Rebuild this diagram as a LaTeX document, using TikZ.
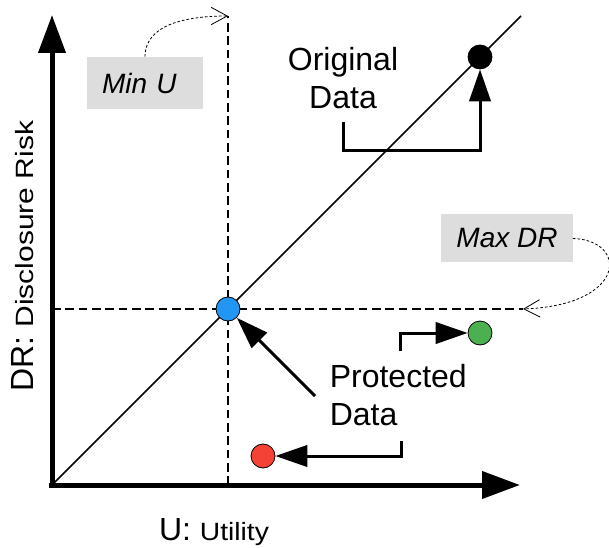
\documentclass[tikz,border=0pt]{standalone}
\usepackage{fontspec}
\setmainfont{Liberation Sans}
\usepackage{xcolor}
\definecolor{boxgray}{RGB}{221,221,221}
\definecolor{protblue}{RGB}{33,150,243}
\definecolor{protgreen}{RGB}{76,175,80}
\definecolor{protred}{RGB}{244,67,54}
\usetikzlibrary{positioning,arrows.meta}

\begin{document}
\begin{tikzpicture}[x=0.75pt,y=-0.75pt,
  axis/.style={line width=3.75pt,-{Triangle[length=28.5pt,width=20pt]}},
  pointer/.style={line width=2.25pt,-{Triangle[length=24pt,width=16pt]}},
  guide/.style={line width=1.1pt,dash pattern=on 6.5pt off 3.5pt},
  hint/.style={line width=0.6pt,dash pattern=on 2pt off 1.5pt,-{Straight Barb[length=12pt,width=13pt]}},
  graybox/.style={fill=boxgray,inner xsep=11.25pt,minimum height=36pt,font=\fontsize{21}{25}\selectfont\itshape},
  datapoint/.style={circle,draw=black,line width=0.6pt,minimum size=18pt,inner sep=0pt},
  bigtext/.style={inner sep=0pt,font=\fontsize{24}{28.5}\selectfont}
]
\useasboundingbox (0,0) rectangle (609,548);

% axes
\coordinate (origin) at (52,485);
\coordinate (ytip) at (52,15);
\coordinate (xtip) at (520,485);
\coordinate (umin) at (228,16);
\coordinate (drmax) at (523,309);
\coordinate (diagend) at (521,16);

% guide lines
\draw[guide] (228,485) -- (umin);
\draw[guide] (52,309) -- (drmax);
\draw[line width=1.3pt] (origin) -- (diagend);

\draw[axis] ([yshift=-2pt]origin) -- (ytip);
\draw[axis] ([xshift=-2pt]origin) -- (xtip);

% data points
\node[datapoint,fill=black] (orig) at (480,57) {};
\node[datapoint,fill=protblue] (pblue) at (228,309) {};
\node[datapoint,fill=protgreen] (pgreen) at (480,333) {};
\node[datapoint,fill=protred] (pred) at (263,456) {};

% labels
\node[bigtext,align=center] (origlbl) at (343,78) {Original\\Data};
\node[bigtext,align=left,anchor=west] (protlbl) at (329.5,395.5) {Protected\\Data};
\node[inner sep=0pt,anchor=base] (ulbl) at (214,540)
  {\fontsize{24}{24}\selectfont U: \scalebox{1.13}[1]{\fontsize{18.75}{20}\selectfont Utility}};
\node[inner sep=0pt,anchor=base,rotate=90] (ylbl) at (33,256)
  {\fontsize{24}{24}\selectfont DR: \scalebox{1.2}[1]{\fontsize{18.75}{20}\selectfont Disclosure Risk}};

% bounds
\node[graybox,text width=64.5pt,minimum height=39pt] (minu) at (145,83) {Min U};
\node[graybox] (maxdr) at (507,238.5) {Max DR};
\draw[hint] (minu.north) .. controls (145,25) and (185,16) .. (umin);
\draw[hint] (maxdr.east) .. controls (628,240) and (628,305) .. (drmax);

% pointers
\coordinate (origfoot) at (343,122);
\coordinate (pg) at (400,351);
\coordinate (pr) at (401,441);
\coordinate (pb) at (315,396);
\draw[pointer] (origfoot) -- (343,151) -| (orig.south);
\draw[pointer] (pg) |- (pgreen.west);
\draw[pointer] (pr) |- (pred.east);
\draw[pointer] (pb) -- (pblue);
\end{tikzpicture}
\end{document}
